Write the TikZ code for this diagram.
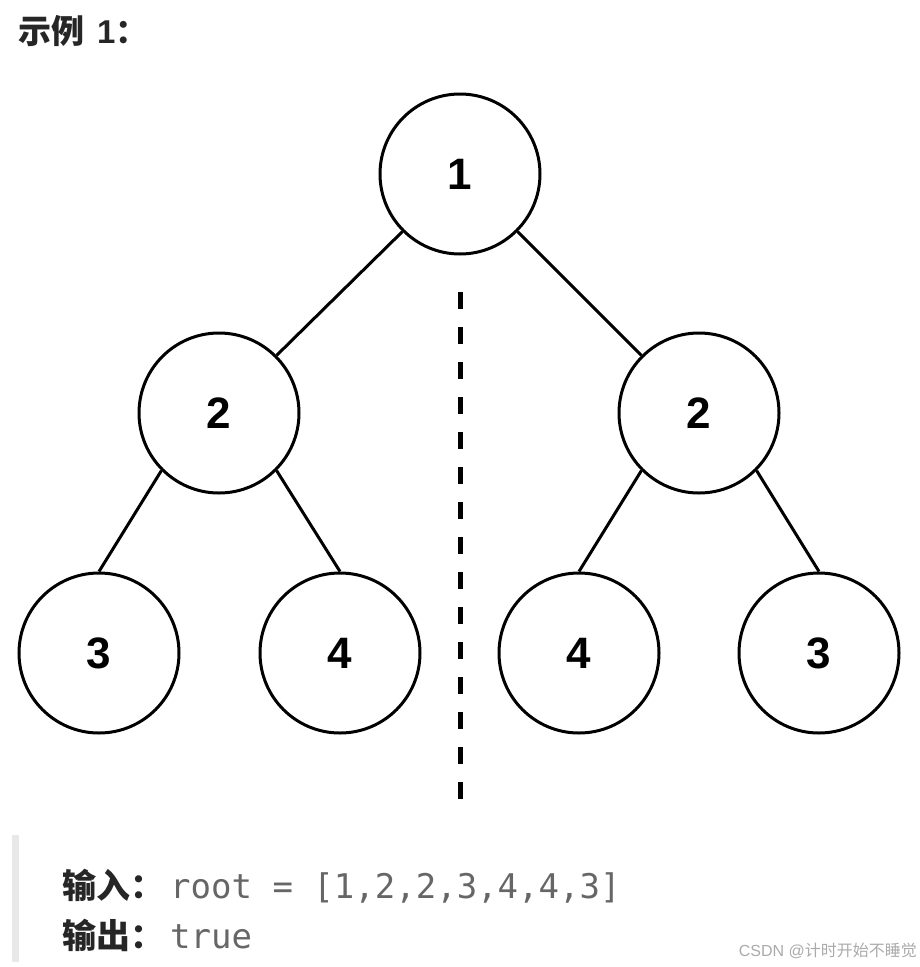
\documentclass[tikz,border=0pt]{standalone}
\usepackage{fontspec}
\setmainfont{Liberation Sans}
\setmonofont{DejaVu Sans Mono}
\newfontfamily\cjk{Noto Sans CJK SC}
\usetikzlibrary{positioning}

\definecolor{codegray}{HTML}{666666}
\definecolor{markgray}{HTML}{AAAAAA}
\definecolor{bargray}{HTML}{E8E8E8}

\begin{document}
\begin{tikzpicture}[x=1pt, y=-1pt,
    treenode/.style={circle, draw, line width=3pt, fill=white, minimum size=160pt, inner sep=0pt,
        font=\fontsize{44}{48}\selectfont\bfseries},
    edge/.style={line width=3pt}]
    \useasboundingbox (0,0) rectangle (919,967);

    % Title
    \node[anchor=west, inner sep=0pt, text=black!85, font=\fontsize{33}{36}\selectfont\bfseries] (title) at (18,31)
        {{\cjk 示例}\hspace{13pt}1{\cjk ：}};

    % Draw nodes
    \node[treenode] (root) at (460,174) {1};
    \node[treenode] (l) at (219,413) {2};
    \node[treenode] (r) at (699,413) {2};
    \node[treenode] (ll) at (99,653) {3};
    \node[treenode] (lr) at (340,653) {4};
    \node[treenode] (rl) at (579,653) {4};
    \node[treenode] (rr) at (819,653) {3};

    % Draw connections
    \draw[edge] (root.south west) -- (l.north east);
    \draw[edge] (root.south east) -- (r.north west);
    \draw[edge] (l.south west) -- (ll.north);
    \draw[edge] (l.south east) -- (lr.north);
    \draw[edge] (r.south west) -- (rl.north);
    \draw[edge] (r.south east) -- (rr.north);

    % Mirror axis
    \coordinate (axistop) at (460,292);
    \coordinate (axisbot) at (460,812);
    \draw[line width=5pt, dash pattern=on 17pt off 18pt] (axistop) -- (axisbot);

    % Example text
    \fill[bargray] (12,835) rectangle (19,962);
    \node[anchor=base west, inner sep=0pt, font=\fontsize{34}{38}\selectfont] (input) at (62,898)
        {{\cjk\bfseries\color{black!85}输入：}\hspace{6pt}{\ttfamily\color{codegray}root = [1,2,2,3,4,4,3]}};
    \node[anchor=base west, inner sep=0pt, font=\fontsize{34}{38}\selectfont] (output) at (62,948)
        {{\cjk\bfseries\color{black!85}输出：}\hspace{6pt}{\ttfamily\color{codegray}true}};
    \node[anchor=base east, inner sep=0pt, text=markgray, font=\fontsize{16}{18}\selectfont] (mark) at (917,956)
        {CSDN @{\cjk 计时开始不睡觉}};
\end{tikzpicture}
\end{document}
